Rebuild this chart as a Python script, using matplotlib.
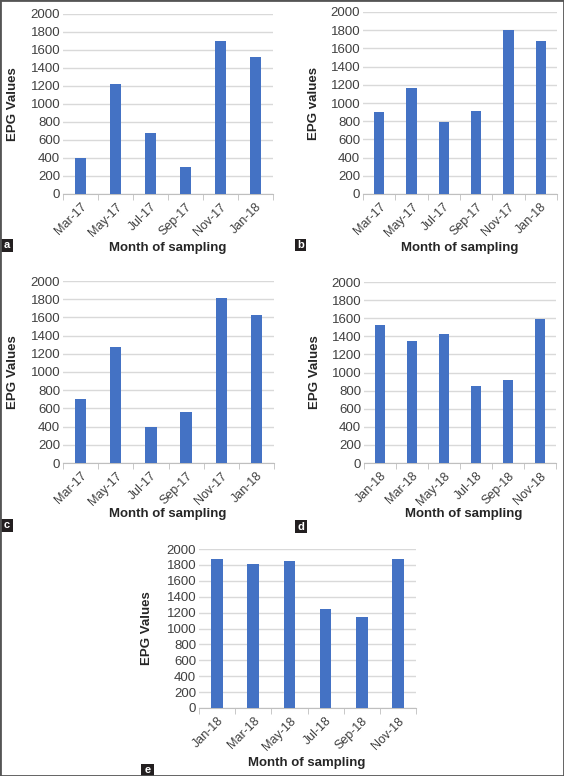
import numpy as np
import matplotlib
matplotlib.use("Agg")
import matplotlib.pyplot as plt
from matplotlib.patches import Rectangle

plt.rcParams['font.family'] = ['Liberation Sans', 'DejaVu Sans']

months_17 = ["Mar-17", "May-17", "Jul-17", "Sep-17", "Nov-17", "Jan-18"]
months_18 = ["Jan-18", "Mar-18", "May-18", "Jul-18", "Sep-18", "Nov-18"]

epg_a = [400, 1220, 675, 300, 1700, 1520]
epg_b = [900, 1160, 795, 915, 1800, 1685]
epg_c = [700, 1280, 400, 560, 1810, 1630]
epg_d = [1525, 1350, 1425, 855, 915, 1590]
epg_e = [1880, 1810, 1855, 1250, 1150, 1880]

W, H = 564, 776
fig = plt.figure(figsize=(W / 100, H / 100), dpi=100)

bar_color = "#4472C4"
text_color = "#404040"


def px_axes(left, right, top, bottom):
    return fig.add_axes([left / W, 1 - bottom / H, (right - left) / W, (bottom - top) / H])


def panel(box, labels, values, ylab, ylab_x, xlab_xy, tag, tag_box):
    ax = px_axes(*box)
    x = np.arange(len(labels))
    ax.bar(x, values, width=0.32, color=bar_color, zorder=3)
    ax.set_xlim(-0.5, len(labels) - 0.5)
    ax.set_ylim(0, 2000)
    ax.set_yticks(np.arange(0, 2001, 200))
    ax.grid(axis='y', color="#D9D9D9", lw=1, zorder=0)
    ax.set_axisbelow(True)
    for s in ["left", "right", "top"]:
        ax.spines[s].set_visible(False)
    ax.spines["bottom"].set_color("#BFBFBF")
    ax.tick_params(axis='y', length=0, labelsize=9.5, labelcolor=text_color, pad=2)
    ax.set_xticks(x)
    ax.set_xticklabels(labels, rotation=45, ha='right', rotation_mode='anchor')
    ax.tick_params(axis='x', which='major', length=0, labelsize=9, labelcolor=text_color, pad=5)
    ax.set_xticks(np.arange(-0.5, len(labels)), minor=True)
    ax.tick_params(axis='x', which='minor', length=4, color="#BFBFBF")
    cy = (box[2] + box[3]) / 2
    fig.text(ylab_x / W, 1 - cy / H, ylab, rotation=90, ha='center', va='center',
             fontsize=9.5, fontweight='bold', color="#262626")
    fig.text(xlab_xy[0] / W, 1 - xlab_xy[1] / H, "Month of sampling", ha='center', va='center',
             fontsize=9.5, fontweight='bold', color="#262626")
    x0, y0, x1, y1 = tag_box
    fig.patches.append(Rectangle((x0 / W, 1 - y1 / H), (x1 - x0) / W, (y1 - y0) / H,
                                 transform=fig.transFigure, facecolor="#231F20", edgecolor='none'))
    fig.text((x0 + x1) / 2 / W, 1 - (y0 + y1) / 2 / H, tag, ha='center', va='center',
             fontsize=8, color='white', fontweight='bold')
    return ax


panel((63, 273, 14, 194), months_17, epg_a, "EPG Values", 13, (168, 248), "a", (0, 239, 13, 252))
panel((363, 557, 12, 194), months_17, epg_b, "EPG values", 314, (460, 248), "b", (295, 239, 306, 251))
panel((63, 274, 281, 463), months_17, epg_c, "EPG Values", 13, (168, 514), "c", (0, 519, 13, 532))
panel((364, 556, 282, 463), months_18, epg_d, "EPG Values", 315, (464, 514), "d", (295, 520, 307, 533))
panel((199, 416, 549, 708), months_18, epg_e, "EPG Values", 147, (307, 763), "e", (141, 764, 154, 776))

# outer frame
fig.patches.append(Rectangle((0, 0), 1, 1, transform=fig.transFigure, fill=False,
                             edgecolor="#555555", lw=2))

fig.savefig("out.png", dpi=100)
